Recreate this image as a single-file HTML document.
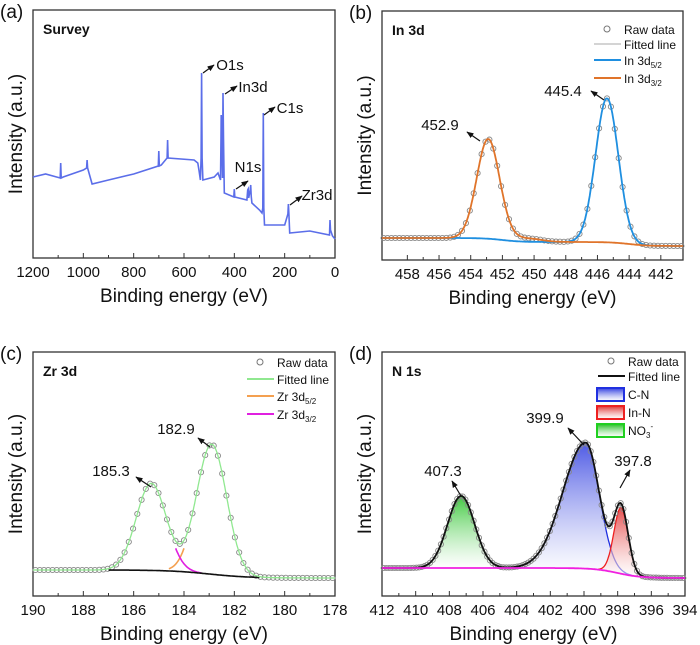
<!DOCTYPE html>
<html><head><meta charset="utf-8">
<style>
html,body{margin:0;padding:0;background:#fff;}
svg{display:block;font-family:"Liberation Sans",Arial,sans-serif;}
</style></head>
<body>
<svg id="fig" width="700" height="645" viewBox="0 0 700 645">
<defs>
<marker id="arr" viewBox="0 0 10 10" refX="9" refY="5" markerWidth="6" markerHeight="6" orient="auto"><path d="M0,1 L10,5 L0,9 z" fill="#111"/></marker>
<linearGradient id="gBlue" x1="0" y1="0" x2="0" y2="1"><stop offset="0" stop-color="#2f3de0"/><stop offset="1" stop-color="#ffffff" stop-opacity="0.6"/></linearGradient>
<linearGradient id="gRed" x1="0" y1="0" x2="0" y2="1"><stop offset="0" stop-color="#e03030"/><stop offset="1" stop-color="#ffffff" stop-opacity="0.6"/></linearGradient>
<linearGradient id="gGreen" x1="0" y1="0" x2="0" y2="1"><stop offset="0" stop-color="#20c020"/><stop offset="1" stop-color="#ffffff" stop-opacity="0.6"/></linearGradient>
</defs>
</svg>
<script>
// ---------- DATA ----------
// (a) survey: binding energies and intensities (arb.)
const surveyE = [1200,1150,1092,1090,1088,1080,1000,987,985,983,965,900,800,702,700,698,690,667,665,663,560,545,540,535,532,530,528,525,480,465,455,453,452,450,447,445,443,440,402,400,398,350,347,345,343,337,335,333,330,300,290,287,285,283,280,200,187,185,183,180,100,22,20,18,10,0];
const surveyI = [81,84,80,95,80,81,88,90,98,90,74,78,84,92,107,92,93,100,118,100,98,95,87,78,100,185,100,78,81,85,78,120,143,120,80,165,120,65,61,69,61,58,68,69,60,68,73,62,55,48,45,50,145,50,33,33,44,54,44,25,27,23,38,28,22,19];
const surveyTicks = [1200,1000,800,600,400,200,0];
// (b) In 3d
const inCenters = [452.9,445.4];
const inHeights = [99,144];
const inFwhm = [1.7,1.7];
const inBgLevels = [22,18,14];
const inTicks = [458,456,454,452,450,448,446,444,442];
// (c) Zr 3d
const zrCenters = [185.3,182.9];
const zrHeights = [87,130];
const zrFwhm = [1.4,1.4];
const zrBg = [26,18];
const zrTicks = [190,188,186,184,182,180,178];
// (d) N 1s
const nCenters = [407.3,399.9,397.8];
const nHeights = [72,126,66];
const nFwhmLeft = [1.9,3.2,1.0];
const nFwhmRight = [1.9,1.9,1.0];
const nBg = [28,18];
const nTicks = [412,410,408,406,404,402,400,398,396,394];

// ---------- HELPERS ----------
const svg = document.getElementById('fig');
const NS = 'http://www.w3.org/2000/svg';
function mk(tag, attrs, parent){const e=document.createElementNS(NS,tag);for(const k in attrs)e.setAttribute(k,attrs[k]);(parent||svg).appendChild(e);return e;}
function txt(x,y,s,size,parent,anchor,weight){const t=mk('text',{x:x,y:y,'font-size':size,'text-anchor':anchor||'start','font-weight':weight||'normal',fill:'#111'},parent);t.textContent=s;return t;}
function gauss(x,c,h,f){const s=f/2.3548;return h*Math.exp(-((x-c)*(x-c))/(2*s*s));}
function gauss2(x,c,h,fl,fr){return x>=c?gauss(x,c,h,fl):gauss(x,c,h,fr);}
function step(x,c,a,b,w){return b+(a-b)/(1+Math.exp(-(x-c)/w));}
function pathFrom(xs,ys,sx,sy){return xs.map((x,i)=>(i?'L':'M')+sx(x).toFixed(1)+','+sy(ys[i]).toFixed(1)).join(' ');}
function range(a,b,n){const r=[];for(let i=0;i<=n;i++)r.push(a+(b-a)*i/n);return r;}

function panel(o){
  const g=mk('g',{});
  
  
  const sx=v=>o.x0+(v-o.e0)/(o.e1-o.e0)*(o.x1-o.x0);
  const sy=v=>o.y1-(v-o.i0)/(o.i1-o.i0)*(o.y1-o.y0);
  const fr=mk('rect',{x:o.x0,y:o.y0,width:o.x1-o.x0,height:o.y1-o.y0,fill:'none',stroke:'#333','stroke-width':1.3},g);
  
  const xa=mk('g',{},g);
  
  o.ticks.forEach((t,i)=>{
    const x=sx(t);
    mk('line',{x1:x,x2:x,y1:o.y1,y2:o.y1-5,stroke:'#333','stroke-width':1},xa);
    const lb=txt(x,o.y1+19,String(t),15,xa,'middle');
    
    if(i<o.ticks.length-1){const m=sx((t+o.ticks[i+1])/2);mk('line',{x1:m,x2:m,y1:o.y1,y2:o.y1-3,stroke:'#333','stroke-width':1},xa);}
  });
  const xt=txt((o.x0+o.x1)/2,o.y1+44,'Binding energy (eV)',19,g,'middle');
  
  const yt=txt(0,0,'Intensity (a.u.)',19,g,'middle');
  yt.setAttribute('transform','translate('+(o.x0-11)+','+((o.y0+o.y1)/2)+') rotate(-90)');
  
  const pl=txt(o.x0-33,o.y0+8,o.label,19,g);
  
  const tl=txt(o.x0+10,o.y0+24,o.title,14,g,'start','bold');
  
  return {g,sx,sy};
}
function annot(g,tx,ty,s,ax1,ay1,ax2,ay2,anchor){
  const a=mk('line',{x1:ax1,y1:ay1,x2:ax2,y2:ay2,stroke:'#111','stroke-width':1.2,'marker-end':'url(#arr)'},g);
  
  const t=txt(tx,ty,s,15,g,anchor||'middle');
  
}
function circles(g,xs,ys,sx,sy,name){
  const cg=mk('g',{},g);
  
  xs.forEach((x,i)=>{mk('circle',{cx:sx(x).toFixed(1),cy:sy(ys[i]).toFixed(1),r:2.6,fill:'none',stroke:'#888','stroke-width':0.9},cg);});
}
function legendLine(g,x,y,color,label,sub,w){
  mk('line',{x1:x,x2:x+27,y1:y-5,y2:y-5,stroke:color,'stroke-width':w||2},g);
  const t=txt(x+30,y,label,12,g);
  if(sub){const ts=mk('tspan',{'font-size':8,dy:3},t);ts.textContent=sub;}
  
}
function legendCircle(g,x,y,label){
  mk('circle',{cx:x+13,cy:y-5,r:3,fill:'none',stroke:'#777','stroke-width':1},g);
  const t=txt(x+30,y,label,12,g);
  
}
function legendBox(g,x,y,fill,stroke,label,sub){
  mk('rect',{x:x,y:y-11,width:27,height:13,fill:fill,stroke:stroke,'stroke-width':2},g);
  const t=txt(x+31,y,label,12,g);
  if(sub){const ts=mk('tspan',{'font-size':8,dy:3},t);ts.textContent=sub;const t2=mk('tspan',{'font-size':8,dy:-9},t);t2.textContent='-';}
  
}

// ---------- (a) SURVEY ----------
(function(){
  const P=panel({name:'survey-panel',x0:33,x1:335,y0:10,y1:258,e0:1200,e1:0,i0:0,i1:248,ticks:surveyTicks,label:'(a)',title:'Survey'});
  const p=mk('path',{d:pathFrom(surveyE,surveyI,P.sx,P.sy),fill:'none',stroke:'#5b6ee9','stroke-width':1.6},P.g);
  
  annot(P.g,230,70,'O1s',203,73,214,65);
  annot(P.g,253,92,'In3d',225,94,237,86);
  annot(P.g,290,113,'C1s',264,115,275,107);
  annot(P.g,248,172,'N1s',236,189,248,181);
  annot(P.g,317,200,'Zr3d',290,205,302,196);
})();

// ---------- (b) In 3d ----------
(function(){
  const P=panel({name:'in3d-panel',x0:382,x1:683,y0:11,y1:260,e0:459.6,e1:440.6,i0:0,i1:249,ticks:inTicks,label:'(b)',title:'In 3d'});
  const xs=range(459.6,440.6,400);
  const bgBlue=xs.map(x=>step(x,452.0,inBgLevels[0],inBgLevels[1],0.6)+step(x,444.0,0,inBgLevels[2]-inBgLevels[1],0.6));
  const bgOr=xs.map(x=>step(x,449.5,inBgLevels[0],inBgLevels[1],0.4)+step(x,444.0,0,inBgLevels[2]-inBgLevels[1],0.6));
  const c0=xs.map((x,i)=>gauss(x,inCenters[0],inHeights[0],inFwhm[0])+bgOr[i]);
  const c1=xs.map((x,i)=>gauss(x,inCenters[1],inHeights[1],inFwhm[1])+bgBlue[i]);
  const fit=xs.map((x,i)=>gauss(x,inCenters[0],inHeights[0],inFwhm[0])+gauss(x,inCenters[1],inHeights[1],inFwhm[1])+bgOr[i]);
  const raw=range(459.5,440.7,76);
  const rawI=raw.map(x=>gauss(x,inCenters[0],inHeights[0],inFwhm[0])+gauss(x,inCenters[1],inHeights[1],inFwhm[1])+step(x,449.5,inBgLevels[0],inBgLevels[1],0.4)+step(x,444.0,0,inBgLevels[2]-inBgLevels[1],0.6));
  circles(P.g,raw,rawI,P.sx,P.sy,'raw-data-points');
  const f=mk('path',{d:pathFrom(xs,fit,P.sx,P.sy),fill:'none',stroke:'#aaa','stroke-width':1},P.g);
  const a=mk('path',{d:pathFrom(xs,c1,P.sx,P.sy),fill:'none',stroke:'#1f8fe0','stroke-width':1.8},P.g);
  const b=mk('path',{d:pathFrom(xs,c0,P.sx,P.sy),fill:'none',stroke:'#e0742a','stroke-width':1.8},P.g);
  const L=mk('g',{},P.g);
  legendCircle(L,594,34,'Raw data');
  legendLine(L,594,49,'#aaa','Fitted line',null,1);
  legendLine(L,594,65,'#1f8fe0','In 3d','5/2');
  legendLine(L,594,83,'#e0742a','In 3d','3/2');
  annot(P.g,440,130,'452.9',480,141,467,132);
  annot(P.g,563,96,'445.4',604,100,591,91);
})();

// ---------- (c) Zr 3d ----------
(function(){
  const P=panel({name:'zr3d-panel',x0:33,x1:335,y0:352,y1:596,e0:190,e1:178,i0:0,i1:244,ticks:zrTicks,label:'(c)',title:'Zr 3d'});
  const xs=range(190,178,400);
  const bg=xs.map(x=>step(x,183,zrBg[0],zrBg[1],0.8));
  const p0=xs.map((x,i)=>gauss(x,zrCenters[0],zrHeights[0],zrFwhm[0])+bg[i]);
  const p1=xs.map((x,i)=>gauss(x,zrCenters[1],zrHeights[1],zrFwhm[1])+bg[i]);
  const fit=xs.map((x,i)=>p0[i]+p1[i]-bg[i]);
  const raw=range(189.9,178.1,70);
  const rawI=raw.map(x=>gauss(x,zrCenters[0],zrHeights[0],zrFwhm[0])+gauss(x,zrCenters[1],zrHeights[1],zrFwhm[1])+step(x,183,zrBg[0],zrBg[1],0.8));
  circles(P.g,raw,rawI,P.sx,P.sy,'raw-data-points');
  const seg=(arr,lo,hi,maxv)=>{const X=[],Y=[];xs.forEach((x,i)=>{if(x<=hi&&x>=lo&&arr[i]<=maxv){X.push(x);Y.push(arr[i]);}});return [X,Y];};
  let s=seg(p1,183.4,184.6,48);const o=mk('path',{d:pathFrom(s[0],s[1],P.sx,P.sy),fill:'none',stroke:'#f4a050','stroke-width':1.6},P.g);
  s=seg(p0,183.3,184.5,48);const m=mk('path',{d:pathFrom(s[0],s[1],P.sx,P.sy),fill:'none',stroke:'#e020e0','stroke-width':1.6},P.g);
  s=seg(bg,181,187,999);const k=mk('path',{d:pathFrom(s[0],s[1],P.sx,P.sy),fill:'none',stroke:'#111','stroke-width':1.6},P.g);
  const f=mk('path',{d:pathFrom(xs,fit,P.sx,P.sy),fill:'none',stroke:'#90e890','stroke-width':1.3},P.g);
  const L=mk('g',{},P.g);
  legendCircle(L,247,367,'Raw data');
  legendLine(L,247,384,'#90e890','Fitted line');
  legendLine(L,247,401,'#f4a050','Zr 3d','5/2');
  legendLine(L,247,419,'#e020e0','Zr 3d','3/2');
  annot(P.g,176,434,'182.9',210,447,198,438);
  annot(P.g,111,476,'185.3',151,487,136,477);
})();

// ---------- (d) N 1s ----------
(function(){
  const P=panel({name:'n1s-panel',x0:382,x1:685,y0:352,y1:596,e0:412,e1:394,i0:0,i1:244,ticks:nTicks,label:'(d)',title:'N 1s'});
  const xs=range(412,394,500);
  const bg=xs.map(x=>step(x,398,nBg[0],nBg[1],0.7));
  const comps=nCenters.map((c,k)=>xs.map((x,i)=>gauss2(x,c,nHeights[k],nFwhmLeft[k],nFwhmRight[k])+bg[i]));
  const fit=xs.map((x,i)=>bg[i]+comps.reduce((s,c)=>s+c[i]-bg[i],0));
  const fills=['url(#gGreen)','url(#gBlue)','url(#gRed)'];
  const strokes=['#20d020','#2030e0','#ee2020'];
  const names=['no3-peak','c-n-peak','in-n-peak'];
  comps.forEach((c,k)=>{
    const X=[],Y=[],B=[];
    xs.forEach((x,i)=>{if(c[i]-bg[i]>0.4){X.push(x);Y.push(c[i]);B.push(bg[i]);}});
    let d=pathFrom(X,Y,P.sx,P.sy);
    for(let i=X.length-1;i>=0;i--)d+=' L'+P.sx(X[i]).toFixed(1)+','+P.sy(B[i]).toFixed(1);
    const a=mk('path',{d:d+' Z',fill:fills[k],stroke:'none','fill-opacity':0.85},P.g);
    
    const l=mk('path',{d:pathFrom(X,Y,P.sx,P.sy),fill:'none',stroke:strokes[k],'stroke-width':1.3},P.g);
    
  });
  const raw=range(411.9,394.1,110);
  const rawI=raw.map(x=>step(x,398,nBg[0],nBg[1],0.7)+nCenters.reduce((s,c,k)=>s+gauss2(x,c,nHeights[k],nFwhmLeft[k],nFwhmRight[k]),0));
  circles(P.g,raw,rawI,P.sx,P.sy,'raw-data-points');
  const f=mk('path',{d:pathFrom(xs,fit,P.sx,P.sy),fill:'none',stroke:'#111','stroke-width':1.8},P.g);
  const b=mk('path',{d:pathFrom(xs,bg,P.sx,P.sy),fill:'none',stroke:'#f020e0','stroke-width':1.8},P.g);
  const L=mk('g',{},P.g);
  legendCircle(L,598,366,'Raw data');
  legendLine(L,598,381,'#111','Fitted line');
  legendBox(L,597,399,'url(#gBlue)','#2030e0','C-N');
  legendBox(L,597,417,'url(#gRed)','#ee2020','In-N');
  legendBox(L,597,435,'url(#gGreen)','#20d020','NO','3');
  annot(P.g,443,476,'407.3',461,496,452,481);
  annot(P.g,545,423,'399.9',584,445,568,428);
  annot(P.g,633,466,'397.8',620,488,630,470);
})();
</script>
</body></html>
